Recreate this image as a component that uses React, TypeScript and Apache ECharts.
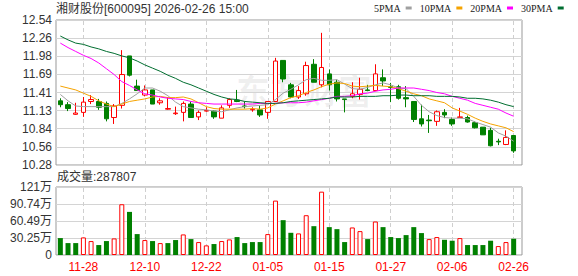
import React, { useEffect, useRef } from "react";
import * as echarts from "echarts";

const stockTitle = "湘财股份[600095] 2026-02-26 15:00";
const volLabel = "成交量";

const dates = [
  "11-25", "11-26", "11-27", "11-28", "12-01", "12-02", "12-03", "12-04", "12-05", "12-08",
  "12-09", "12-10", "12-11", "12-12", "12-15", "12-16", "12-17", "12-18", "12-19", "12-22",
  "12-23", "12-24", "12-25", "12-26", "12-29", "12-30", "12-31", "01-05", "01-06", "01-07",
  "01-08", "01-09", "01-12", "01-13", "01-14", "01-15", "01-16", "01-19", "01-20", "01-21",
  "01-22", "01-23", "01-26", "01-27", "01-28", "01-29", "01-30", "02-02", "02-03", "02-04",
  "02-05", "02-06", "02-09", "02-10", "02-11", "02-12", "02-13", "02-24", "02-25", "02-26",
];

const opens = [
  11.28, 11.22, 11.07, 11.10, 11.27, 11.27, 11.24, 11.02, 11.21, 11.98,
  11.51, 11.37, 11.45, 11.25, 11.15, 11.08, 11.10, 11.23, 11.03, 11.12,
  11.12, 11.01, 11.21, 11.29, 11.20, 11.14, 11.14, 11.10, 11.27, 11.91,
  11.53, 11.34, 11.39, 11.85, 11.53, 11.70, 11.57, 11.31, 11.35, 11.38,
  11.45, 11.44, 11.64, 11.50, 11.50, 11.33, 11.27, 11.00, 10.98, 10.96,
  11.10, 10.99, 11.02, 11.02, 10.94, 10.87, 10.82, 10.65, 10.60, 10.74,
];
const closes = [
  11.22, 11.16, 11.09, 11.26, 11.30, 11.18, 11.00, 11.20, 11.69, 11.68,
  11.44, 11.45, 11.23, 11.28, 11.16, 11.09, 11.24, 11.02, 11.10, 11.13,
  11.03, 11.17, 11.30, 11.27, 11.19, 11.15, 11.06, 11.27, 11.90, 11.62,
  11.34, 11.44, 11.83, 11.57, 11.80, 11.53, 11.31, 11.30, 11.39, 11.46,
  11.44, 11.70, 11.59, 11.49, 11.32, 11.31, 10.99, 10.92, 10.97, 11.11,
  11.06, 10.92, 11.03, 10.95, 10.86, 10.75, 10.58, 10.64, 10.71, 10.50,
];
const lows = [
  11.18, 11.12, 11.06, 11.03, 11.23, 11.14, 10.96, 10.92, 11.16, 11.66,
  11.44, 11.35, 11.23, 11.22, 11.14, 11.06, 10.96, 11.02, 10.98, 11.11,
  11.00, 11.01, 11.17, 11.26, 11.16, 11.11, 11.03, 11.00, 11.26, 11.57,
  11.32, 11.31, 11.36, 11.57, 11.49, 11.44, 11.27, 11.10, 11.32, 11.30,
  11.43, 11.43, 11.51, 11.26, 11.30, 11.18, 10.95, 10.88, 10.78, 10.89,
  11.01, 10.89, 11.02, 10.94, 10.85, 10.75, 10.57, 10.59, 10.59, 10.47,
];
const highs = [
  11.32, 11.26, 11.25, 11.34, 11.37, 11.31, 11.27, 11.23, 12.07, 11.98,
  11.61, 11.52, 11.45, 11.32, 11.34, 11.19, 11.27, 11.27, 11.13, 11.18,
  11.13, 11.21, 11.32, 11.45, 11.27, 11.18, 11.21, 11.27, 11.95, 11.91,
  11.56, 11.51, 11.89, 11.93, 12.34, 11.77, 11.61, 11.31, 11.57, 11.64,
  11.53, 11.85, 11.77, 11.56, 11.53, 11.51, 11.27, 11.22, 11.06, 11.13,
  11.15, 11.02, 11.17, 11.05, 10.96, 10.87, 10.86, 10.69, 10.82, 10.74,
];

const volumes = [
  301000, 212000, 212000, 313000, 248000, 177000, 248000, 295000, 903000, 767000,
  372000, 266000, 248000, 212000, 212000, 266000, 366000, 283000, 230000, 171000,
  195000, 248000, 277000, 319000, 212000, 230000, 230000, 372000, 968000, 620000,
  395000, 384000, 708000, 513000, 1127000, 496000, 460000, 230000, 490000, 425000,
  283000, 596000, 496000, 319000, 301000, 354000, 496000, 390000, 283000, 319000,
  271000, 254000, 301000, 177000, 177000, 177000, 254000, 159000, 230000, 287807,
];

const ma5 = [
  11.38, 11.28, 11.20, 11.19, 11.19, 11.19, 11.19, 11.19, 11.24, 11.31,
  11.39, 11.48, 11.48, 11.43, 11.36, 11.26, 11.19, 11.17, 11.15, 11.14,
  11.12, 11.11, 11.14, 11.17, 11.19, 11.20, 11.21, 11.22, 11.30, 11.40,
  11.46, 11.53, 11.61, 11.63, 11.60, 11.60, 11.61, 11.54, 11.47, 11.46,
  11.49, 11.53, 11.56, 11.53, 11.48, 11.47, 11.35, 11.21, 11.11, 11.05,
  11.02, 11.01, 11.01, 11.00, 10.95, 10.91, 10.87, 10.78, 10.73, 10.65,
];
const ma10 = [
  11.51, 11.48, 11.45, 11.40, 11.35, 11.28, 11.23, 11.19, 11.23, 11.27,
  11.29, 11.31, 11.34, 11.35, 11.33, 11.33, 11.34, 11.31, 11.25, 11.19,
  11.16, 11.15, 11.15, 11.15, 11.15, 11.16, 11.15, 11.17, 11.23, 11.28,
  11.33, 11.36, 11.41, 11.45, 11.50, 11.54, 11.56, 11.55, 11.51, 11.50,
  11.51, 11.52, 11.51, 11.50, 11.47, 11.43, 11.39, 11.36, 11.31, 11.28,
  11.25, 11.17, 11.12, 11.07, 11.01, 10.96, 10.92, 10.89, 10.86, 10.80,
];
const ma20 = [
  12.18, 12.11, 12.05, 11.99, 11.94, 11.87, 11.78, 11.69, 11.58, 11.52,
  11.45, 11.39, 11.37, 11.34, 11.32, 11.31, 11.30, 11.27, 11.25, 11.24,
  11.23, 11.23, 11.23, 11.23, 11.23, 11.23, 11.24, 11.24, 11.24, 11.25,
  11.25, 11.25, 11.26, 11.28, 11.30, 11.32, 11.35, 11.35, 11.36, 11.39,
  11.40, 11.43, 11.45, 11.46, 11.48, 11.48, 11.48, 11.46, 11.44, 11.41,
  11.39, 11.35, 11.32, 11.29, 11.24, 11.21, 11.18, 11.15, 11.09, 11.04,
];
const ma30 = [
  12.29, 12.23, 12.18, 12.16, 12.12, 12.09, 12.05, 12.02, 11.98, 11.95,
  11.90, 11.84, 11.79, 11.74, 11.68, 11.63, 11.57, 11.53, 11.48, 11.43,
  11.38, 11.34, 11.31, 11.30, 11.27, 11.26, 11.25, 11.24, 11.24, 11.25,
  11.27, 11.28, 11.29, 11.30, 11.31, 11.32, 11.34, 11.34, 11.34, 11.35,
  11.35, 11.35, 11.36, 11.36, 11.37, 11.37, 11.36, 11.36, 11.36, 11.35,
  11.35, 11.35, 11.34, 11.32, 11.32, 11.31, 11.29, 11.26, 11.22, 11.19,
];

const tickDates = ["11-28", "12-10", "12-22", "01-05", "01-15", "01-27", "02-06", "02-26"];
const priceTicks = ["10.28", "10.56", "10.84", "11.13", "11.41", "11.69", "11.98", "12.26", "12.54"];
const volTicks = ["0", "30.25万", "60.49万", "90.74万", "121万"];
const maNames = ["5PMA", "10PMA", "20PMA", "30PMA"];

const RED = "#ff0000";
const GREEN = "#008000";
const MA_COLORS = ["#a0a0a0", "#f5a300", "#ff00ff", "#006e30"];
const SANS = "'Liberation Sans', 'Noto Sans CJK SC', sans-serif";

export default function App() {
  const ref = useRef<HTMLDivElement>(null);

  useEffect(() => {
    if (!ref.current) return;
    const chart = echarts.init(ref.current, undefined, { renderer: "svg" });

    const candleData = dates.map((_, i) => [opens[i], closes[i], lows[i], highs[i]]);
    const volData = volumes.map((v, i) => {
      const up = i === 0 ? closes[i] >= opens[i] : closes[i] >= closes[i - 1];
      return {
        value: v,
        itemStyle: up
          ? { color: "#ffffff", borderColor: RED, borderWidth: 1 }
          : { color: GREEN, borderColor: GREEN, borderWidth: 0 },
      };
    });
    const maData = [ma5, ma10, ma20, ma30];

    const vLines = {
      silent: true,
      z: 1,
      symbol: ["none", "none"],
      label: { show: false },
      lineStyle: { color: "#cfcfcf", width: 1, type: [4, 3] },
      data: tickDates.map((d) => ({ xAxis: d })),
    };

    const frameGrid = { show: true, borderColor: "#999", borderWidth: 1, backgroundColor: "transparent" };

    chart.setOption({
      animation: false,
      grid: [
        { ...frameGrid, left: 56, top: 20, width: 466, height: 145 },
        { left: 56.5, top: 20, width: 461, height: 145 },
        { ...frameGrid, left: 56, top: 187, width: 466, height: 68 },
        { left: 56.5, top: 187, width: 461, height: 68 },
      ],
      legend: {
        data: maNames,
        left: 374,
        top: 3,
        width: 260,
        padding: 0,
        align: "right",
        icon: "rect",
        itemWidth: 6,
        itemHeight: 3,
        itemGap: 8,
        selectedMode: false,
        textStyle: { fontFamily: "'Liberation Serif', serif", fontSize: 10, color: "#222" },
      },
      xAxis: [
        { gridIndex: 0, type: "value", show: false, min: 0, max: 1 },
        { gridIndex: 1, type: "category", data: dates, boundaryGap: true, show: false },
        { gridIndex: 2, type: "value", show: false, min: 0, max: 1 },
        {
          gridIndex: 3,
          type: "category",
          data: dates,
          boundaryGap: true,
          axisLine: { show: false },
          axisTick: { show: false },
          splitLine: { show: false },
          axisLabel: {
            interval: (idx: number, val: string) => tickDates.includes(val),
            color: RED,
            fontSize: 12,
            fontFamily: SANS,
            margin: 6,
          },
        },
      ],
      yAxis: [
        {
          gridIndex: 0,
          type: "value",
          min: 10.28,
          max: 12.54,
          interval: 0.2825,
          axisLine: { show: false },
          axisTick: { show: false },
          splitLine: { lineStyle: { color: "#d4d4d4", width: 1 } },
          axisLabel: {
            formatter: (_v: number, i: number) => priceTicks[i] ?? "",
            color: "#333",
            fontSize: 12,
            fontFamily: SANS,
            margin: 4,
          },
        },
        { gridIndex: 1, type: "value", min: 10.28, max: 12.54, show: false },
        {
          gridIndex: 2,
          type: "value",
          min: 0,
          max: 1209900,
          interval: 302475,
          axisLine: { show: false },
          axisTick: { show: false },
          splitLine: { lineStyle: { color: "#d4d4d4", width: 1 } },
          axisLabel: {
            formatter: (_v: number, i: number) => volTicks[i] ?? "",
            color: "#333",
            fontSize: 12,
            fontFamily: SANS,
            margin: 4,
          },
        },
        { gridIndex: 3, type: "value", min: 0, max: 1209900, show: false },
      ],
      graphic: [
        {
          type: "text",
          left: 236,
          top: 72,
          z: 0,
          silent: true,
          style: {
            text: "东方财富",
            fontSize: 34,
            fontWeight: "bold",
            fontFamily: "'Noto Sans CJK SC', sans-serif",
            fill: "rgba(0,0,0,0.06)",
          },
        },
        {
          type: "text",
          left: 56,
          top: 3,
          style: { text: stockTitle, fontSize: 12, fontFamily: SANS, fill: "#333" },
        },
        {
          type: "text",
          left: 57,
          top: 171,
          style: {
            text: `${volLabel}:${volumes[volumes.length - 1]}`,
            fontSize: 12,
            fontFamily: SANS,
            fill: "#333",
          },
        },
      ],
      series: [
        {
          type: "candlestick",
          xAxisIndex: 1,
          yAxisIndex: 1,
          data: candleData,
          barWidth: 5,
          z: 2,
          itemStyle: {
            color: "#ffffff",
            color0: GREEN,
            borderColor: RED,
            borderColor0: GREEN,
            borderWidth: 1,
          },
          markLine: vLines,
        },
        ...maNames.map((name, k) => ({
          name,
          type: "line",
          xAxisIndex: 1,
          yAxisIndex: 1,
          data: maData[k],
          showSymbol: false,
          symbol: "none",
          z: 3,
          lineStyle: { color: MA_COLORS[k], width: 1 },
          itemStyle: { color: MA_COLORS[k] },
        })),
        {
          type: "bar",
          xAxisIndex: 3,
          yAxisIndex: 3,
          data: volData,
          barWidth: 5,
          z: 2,
          markLine: vLines,
        },
      ],
    });

    return () => chart.dispose();
  }, []);

  return (
    <div
      ref={ref}
      style={{ position: "absolute", left: 0, top: 0, width: 578, height: 276, background: "#fff" }}
    />
  );
}
